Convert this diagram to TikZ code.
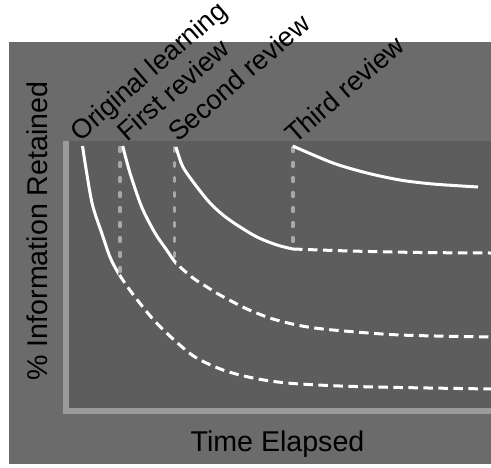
\documentclass[tikz,border=0pt]{standalone}
\usepackage{fontspec}
\setmainfont{Liberation Sans}
\definecolor{outergray}{HTML}{6B6B6B}
\definecolor{innergray}{HTML}{5D5D5D}
\definecolor{axisgray}{HTML}{9B9B9B}
\definecolor{guidegray}{HTML}{A8A8A8}
\tikzset{
  curve/.style={white, line width=3pt},
  fadecurve/.style={white, line width=3pt, dash pattern=on 9.5pt off 5.5pt},
  guide/.style={guidegray, line width=3.2pt, line cap=round, dash pattern=on 4pt off 11pt},
  axisline/.style={axisgray, line width=5.5pt},
  axislabel/.style={font=\fontsize{28.6}{33}\selectfont, text=black, inner sep=0pt},
  steplabel/.style={font=\fontsize{27}{32}\selectfont, text=black, inner sep=0pt, rotate=41, anchor=base west},
}
\begin{document}
\begin{tikzpicture}[x=1pt,y=-1pt]
\useasboundingbox (0,0) rectangle (491,467);
\fill[white] (0,0) rectangle (491,467);
\fill[outergray] (9,42) rectangle (491,464);
\fill[innergray] (64,141) rectangle (491,413);
% axes
\coordinate (orig) at (66,411);
\coordinate (ytop) at (66,141);
\coordinate (xend) at (491,411);
\draw[axisline] (ytop) -- (66,413.75);
\draw[axisline] (63.25,411) -- (xend);
% guides
\coordinate (g1t) at (120,147.5); \coordinate (g1b) at (120,272);
\coordinate (g2t) at (174.3,147.5); \coordinate (g2b) at (174.3,258);
\coordinate (g3t) at (293,147.5); \coordinate (g3b) at (293,248);
\draw[guide] (g1t) -- (g1b);
\draw[guide] (g2t) -- (g2b);
\draw[guide] (g3t) -- (g3b);
% curve 1
\begin{scope}
\clip (0,0) rectangle (118.3,467);
\draw[curve] plot[smooth] coordinates {(82.5,146) (86.7,173) (92.5,205) (101.7,233) (110,257) (118.3,273) (132,293) (152,318) (172,338) (195,357) (223,370) (253,378) (287,383) (340,386) (400,387.5) (491,389)};
\end{scope}
\begin{scope}
\clip (118.3,0) rectangle (491,467);
\draw[fadecurve] plot[smooth] coordinates {(82.5,146) (86.7,173) (92.5,205) (101.7,233) (110,257) (118.3,273) (132,293) (152,318) (172,338) (195,357) (223,370) (253,378) (287,383) (340,386) (400,387.5) (491,389)};
\end{scope}
% curve 2
\begin{scope}
\clip (0,0) rectangle (176,467);
\draw[curve] plot[smooth] coordinates {(122.7,146) (130,173) (141.7,207) (155,233) (166.7,250) (176,263) (193,278) (207,287) (220,295) (247,309) (273,319) (302,326) (333,330) (400,335) (491,337)};
\end{scope}
\begin{scope}
\clip (176,0) rectangle (491,467);
\draw[fadecurve] plot[smooth] coordinates {(122.7,146) (130,173) (141.7,207) (155,233) (166.7,250) (176,263) (193,278) (207,287) (220,295) (247,309) (273,319) (302,326) (333,330) (400,335) (491,337)};
\end{scope}
% curve 3
\draw[curve] plot[smooth] coordinates {(176,147) (183,167) (197,187) (210,203) (223,215) (237,225) (257,237) (277,245) (293,249)};
\draw[fadecurve] plot[smooth] coordinates {(293,249) (350,251) (420,252.5) (491,253)};
% curve 4
\draw[curve] plot[smooth] coordinates {(292.7,146) (333,163) (367,173) (400,180) (433,184) (478,187)};
% labels
\node[steplabel] (l0) at (80,142.5) {Original learning};
\node[steplabel] (l1) at (127,142.5) {First review};
\node[steplabel] (l2) at (178,143) {Second review};
\node[steplabel] (l3) at (295,145) {Third review};
\node[axislabel, anchor=base] (xl) at (277.5,451) {Time Elapsed};
\node[axislabel, anchor=base, rotate=90] (yl) at (47,231) {\% Information Retained};
\end{tikzpicture}
\end{document}
